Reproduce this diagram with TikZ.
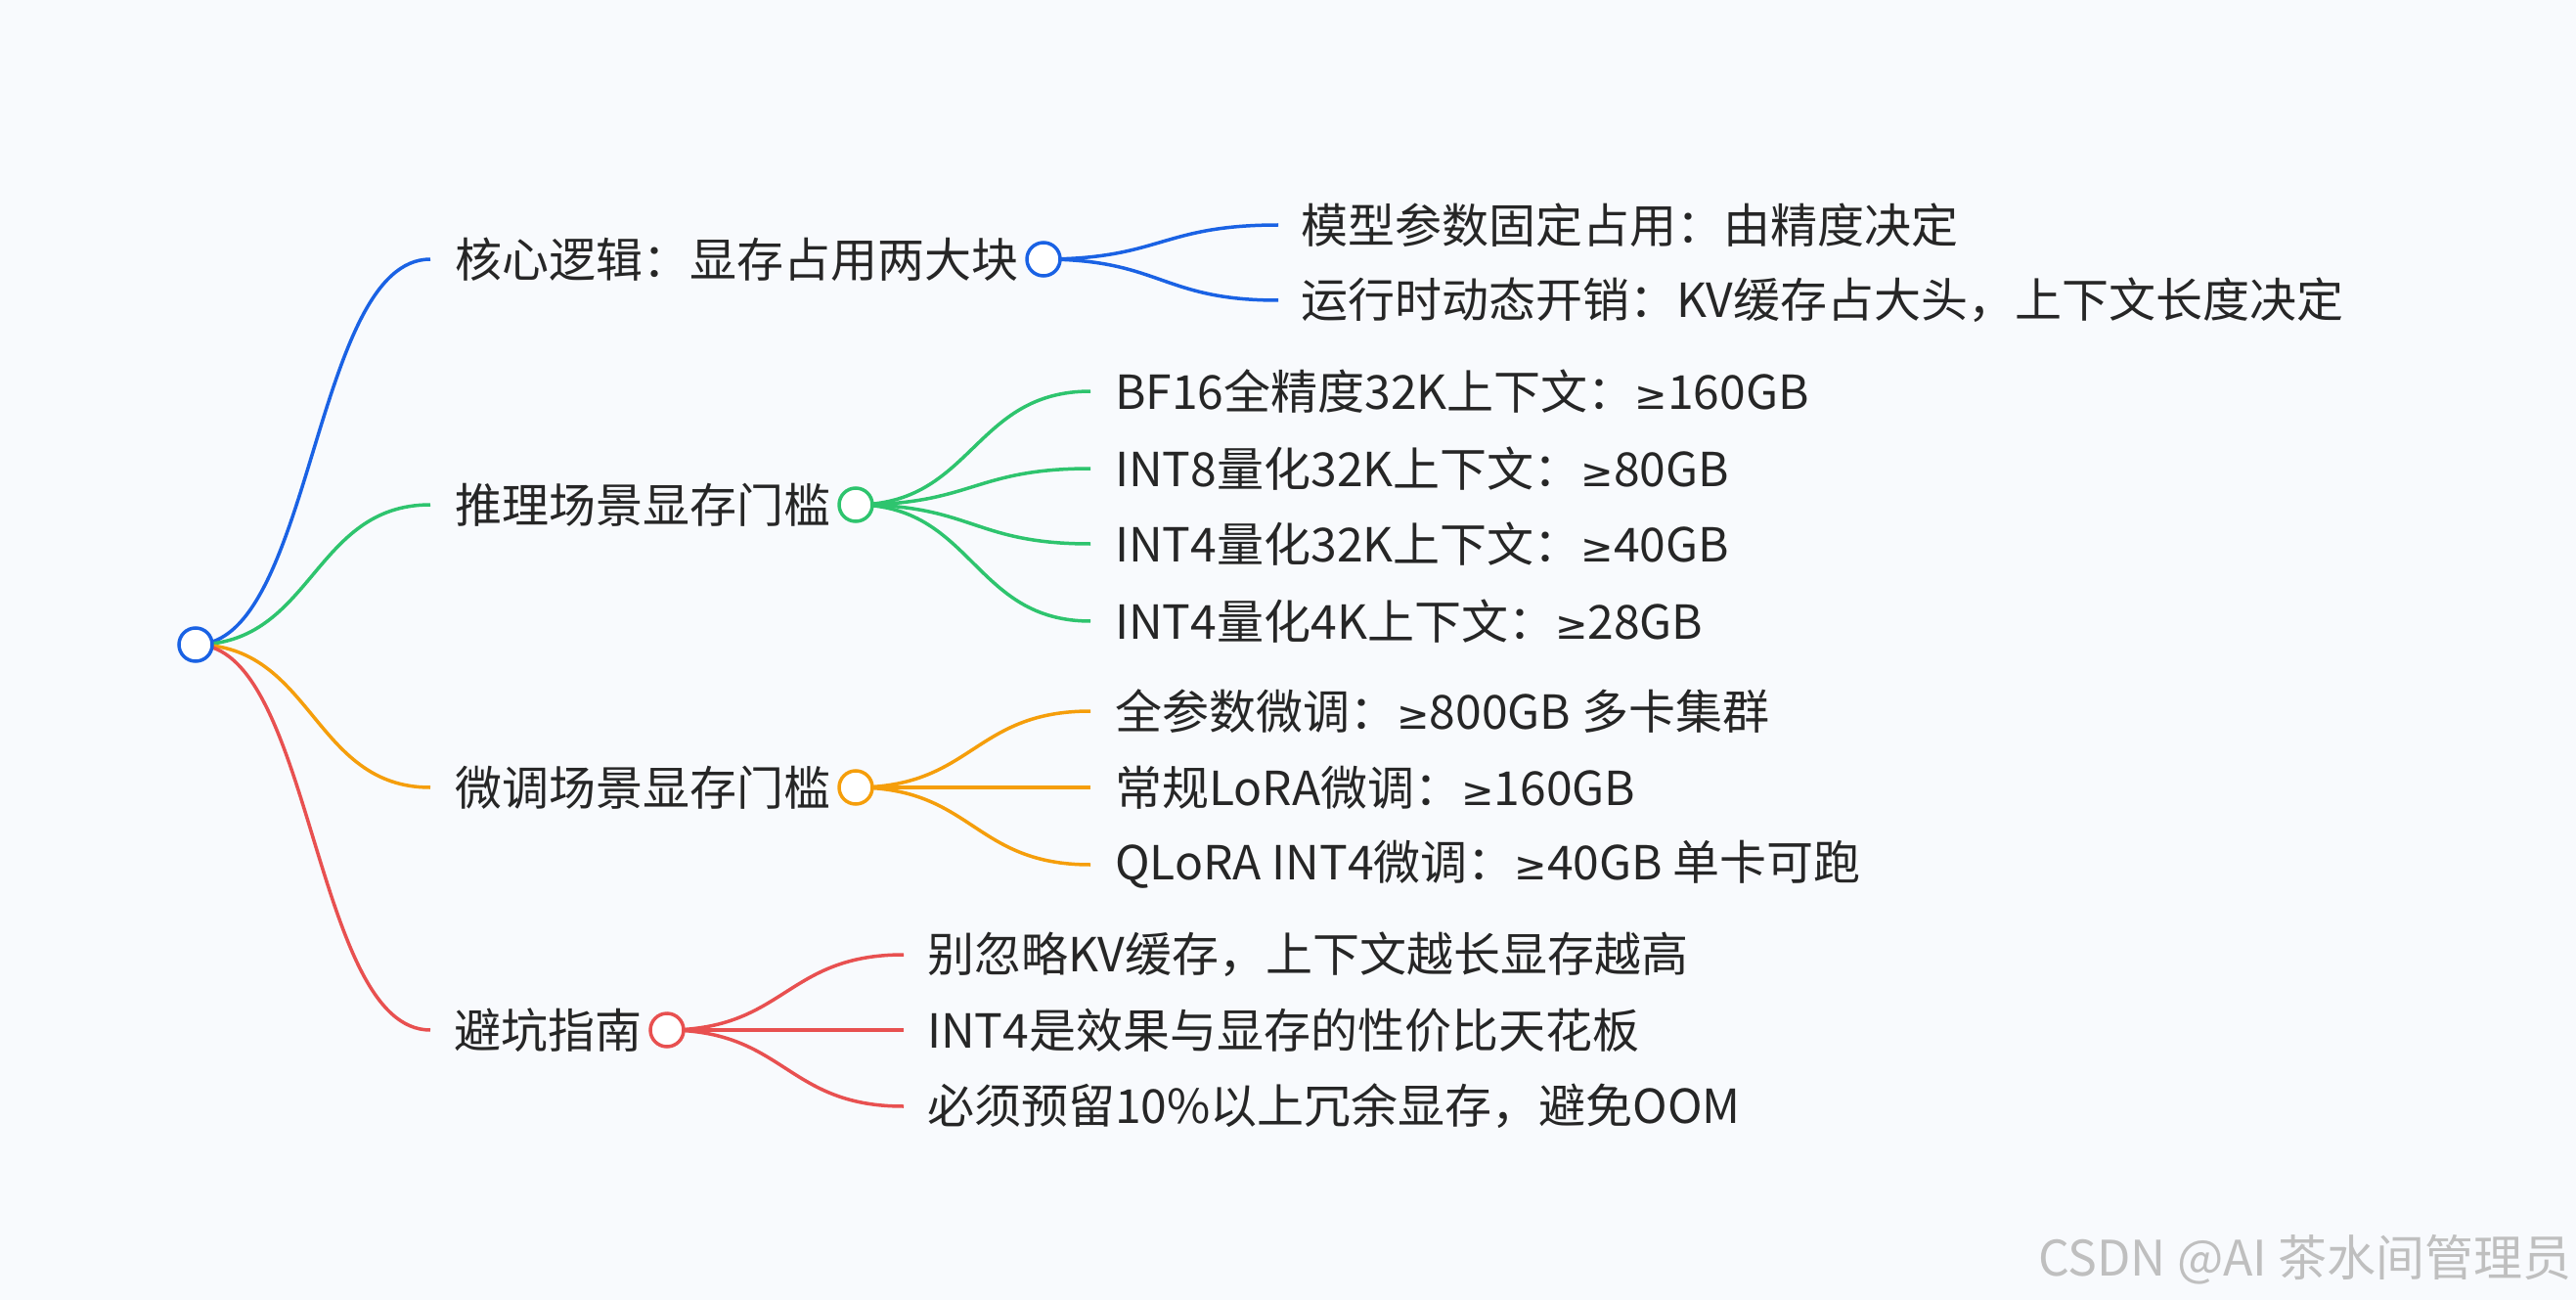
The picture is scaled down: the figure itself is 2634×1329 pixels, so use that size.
\documentclass[tikz,border=0pt]{standalone}
\usepackage{fontspec}
\setmainfont{Noto Sans CJK SC}
\newfontfamily\nsf{DejaVu Sans}
\newcommand\mygeq{{\nsf\fontsize{40}{48}\selectfont ≥}}
\begin{document}
\begin{tikzpicture}[x=1pt,y=-1pt,
  dot/.style={circle,draw,fill=white,line width=3.5pt,minimum size=34pt,inner sep=0pt},
  lab/.style={inner sep=0pt,font=\fontsize{48}{56}\selectfont,text=black!85},
  llab/.style={lab,anchor=west},
  blab/.style={lab,anchor=east},
  con/.style={line width=3.5pt}]
\fill[fill={rgb,255:red,248;green,250;blue,253}] (0,0) rectangle (2634,1329);
\useasboundingbox (0,0) rectangle (2634,1329);
\colorlet{cb}{rgb,255:red,26;green,98;blue,228}
\colorlet{cg}{rgb,255:red,46;green,196;blue,110}
\colorlet{co}{rgb,255:red,245;green,158;blue,11}
\colorlet{cr}{rgb,255:red,232;green,80;blue,80}
\newcommand\cur[3]{\path (#2) -- (#3) coordinate[pos=0.5] (mm);
  \draw[con,#1] (#2) .. controls (mm|-#2) and (mm|-#3) .. (#3);}
\node[blab] (b1) at (1042,265) {核心逻辑：显存占用两大块};
\node[blab] (b2) at (850,516) {推理场景显存门槛};
\node[blab] (b3) at (850,805) {微调场景显存门槛};
\node[blab] (b4) at (657,1053) {避坑指南};
\coordinate (e1) at (440,265);
\coordinate (e2) at (440,516);
\coordinate (e3) at (440,805);
\coordinate (e4) at (440,1053);
\node[llab] (l11) at (1330,230) {模型参数固定占用：由精度决定};
\node[llab] (l12) at (1330,307) {运行时动态开销：KV缓存占大头，上下文长度决定};
\node[llab] (l21) at (1140,400) {BF16全精度32K上下文：\mygeq160GB};
\node[llab] (l22) at (1140,479) {INT8量化32K上下文：\mygeq80GB};
\node[llab] (l23) at (1140,556) {INT4量化32K上下文：\mygeq40GB};
\node[llab] (l24) at (1140,635) {INT4量化4K上下文：\mygeq28GB};
\node[llab] (l31) at (1140,727) {全参数微调：\mygeq800GB 多卡集群};
\node[llab] (l32) at (1140,805) {常规LoRA微调：\mygeq160GB};
\node[llab] (l33) at (1140,884) {QLoRA INT4微调：\mygeq40GB 单卡可跑};
\node[llab] (l41) at (948,976) {别忽略KV缓存，上下文越长显存越高};
\node[llab] (l42) at (948,1053) {INT4是效果与显存的性价比天花板};
\node[llab] (l43) at (948,1131) {必须预留10\%以上冗余显存，避免OOM};
\coordinate (r) at (200,659);
\coordinate (c1) at (1067,265);
\coordinate (c2) at (875,516);
\coordinate (c3) at (875,805);
\coordinate (c4) at (682,1053);
\coordinate (t11) at (1307,230); \coordinate (t12) at (1307,307);
\coordinate (t21) at (1115,400); \coordinate (t22) at (1115,479);
\coordinate (t23) at (1115,556); \coordinate (t24) at (1115,635);
\coordinate (t31) at (1115,727); \coordinate (t32) at (1115,805);
\coordinate (t33) at (1115,884);
\coordinate (t41) at (924,976); \coordinate (t42) at (924,1053);
\coordinate (t43) at (924,1131);
\cur{cb}{r}{e1}\cur{cg}{r}{e2}\cur{co}{r}{e3}\cur{cr}{r}{e4}
\cur{cb}{c1}{t11}\cur{cb}{c1}{t12}
\cur{cg}{c2}{t21}\cur{cg}{c2}{t22}\cur{cg}{c2}{t23}\cur{cg}{c2}{t24}
\cur{co}{c3}{t31}\cur{co}{c3}{t32}\cur{co}{c3}{t33}
\cur{cr}{c4}{t41}\cur{cr}{c4}{t42}\cur{cr}{c4}{t43}
\node[dot,draw=cb] (root) at (r) {};
\node[dot,draw=cb] (n1) at (c1) {};
\node[dot,draw=cg] (n2) at (c2) {};
\node[dot,draw=co] (n3) at (c3) {};
\node[dot,draw=cr] (n4) at (c4) {};
\node[anchor=east,inner sep=0pt,text=black!25,font=\fontsize{50}{58}\selectfont] (wm) at (2630,1288) {CSDN @AI 茶水间管理员};
\end{tikzpicture}
\end{document}
